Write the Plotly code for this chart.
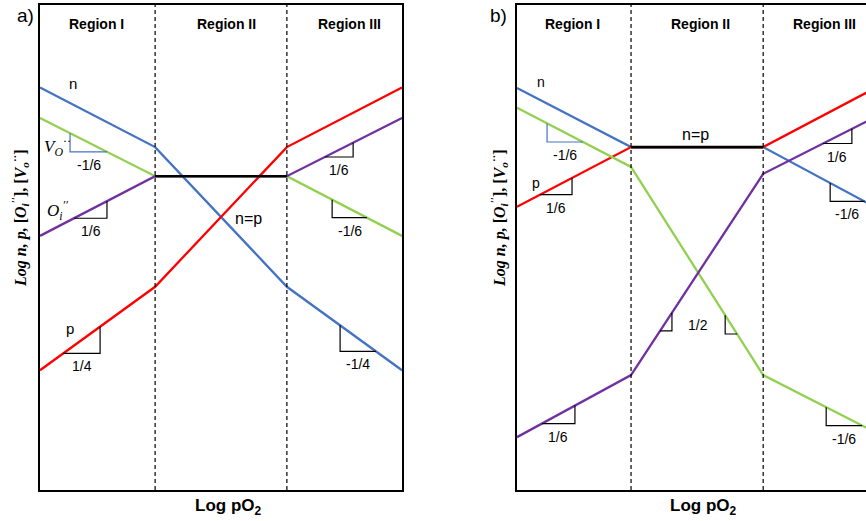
import numpy as np
import plotly.graph_objects as go

# ---------------- data (arbitrary log units) ----------------
# Panel a: region breakpoints on the Log pO2 axis
XA = [0.0, 3.18, 6.82, 10.0]
a_n = [8.30, 7.07, 4.19, 2.47]
a_p = [2.47, 4.19, 7.07, 8.30]
a_vo = [7.67, 6.47, 6.47, 5.24]
a_oi = [5.24, 6.47, 6.47, 7.67]

# Panel b
XB = [0.0, 3.15, 6.80, 10.0]
b_n = [8.29, 7.07, 7.07, 5.79]
b_p = [5.84, 7.07, 7.07, 8.33]
b_vo = [7.88, 6.66, 2.37, 1.15]
b_oi = [1.09, 2.37, 6.52, 7.73]

region_names = ["Region I", "Region II", "Region III"]

# slope triangles: (series, x_start, x_end, kind, colour key, label)
tri_a = [("vo", 0.83, 1.85, "down", "blue", "-1/6"),
         ("oi", 0.94, 1.85, "up", "black", "1/6"),
         ("p", 0.64, 1.66, "up", "black", "1/4"),
         ("oi", 7.87, 8.65, "up", "black", "1/6"),
         ("vo", 8.07, 9.03, "down", "black", "-1/6"),
         ("n", 8.29, 9.28, "down", "black", "-1/4")]
tri_b = [("vo", 0.83, 1.82, "down", "blue", "-1/6"),
         ("p", 0.64, 1.52, "up", "black", "1/6"),
         ("oi", 0.69, 1.60, "up", "black", "1/6"),
         ("oi", 3.95, 4.28, "up", "black", ""),
         ("vo", 5.75, 6.08, "down", "black", ""),
         ("oi", 8.45, 9.25, "up", "black", "1/6"),
         ("n", 8.65, 9.60, "down", "black", "-1/6"),
         ("vo", 8.54, 9.53, "down", "black", "-1/6")]

COL = {"n": "#4472C4", "p": "#FF0000", "vo": "#92D050", "oi": "#7030A0",
       "blue": "#4472C4", "black": "#000000"}

SANS = "Liberation Sans, Arial, sans-serif"
SERIF = "Liberation Serif, Times New Roman, serif"

fig = go.Figure()


def note(**kw):
    kw.setdefault("showarrow", False)
    kw.setdefault("xanchor", "center")
    kw.setdefault("yanchor", "middle")
    fig.add_annotation(**kw)


def add_panel(X, series, xa, ya, tris):
    for key in ["n", "p", "vo", "oi"]:
        fig.add_trace(go.Scatter(x=X, y=series[key], mode="lines",
                                 line=dict(color=COL[key], width=2.3),
                                 xaxis=xa, yaxis=ya, showlegend=False,
                                 hoverinfo="skip"))
    # region II flat segment (black)
    if series["n"][1] == series["n"][2]:
        flat = series["n"][1]
    else:
        flat = series["vo"][1]
    fig.add_trace(go.Scatter(x=[X[1], X[2]], y=[flat, flat], mode="lines",
                             line=dict(color="black", width=2.6),
                             xaxis=xa, yaxis=ya, showlegend=False,
                             hoverinfo="skip"))
    for key, x1, x2, kind, ck, lab in tris:
        y1 = float(np.interp(x1, X, series[key]))
        y2 = float(np.interp(x2, X, series[key]))
        if kind == "down":
            tx, ty = [x1, x1, x2], [y1, y2, y2]
            hy = y2
        else:
            tx, ty = [x1, x2, x2], [y1, y1, y2]
            hy = y1
        fig.add_trace(go.Scatter(x=tx, y=ty, mode="lines",
                                 line=dict(color=COL[ck], width=1.2),
                                 xaxis=xa, yaxis=ya, showlegend=False,
                                 hoverinfo="skip"))
        if lab:
            note(x=(x1 + x2) / 2, y=hy, xref=xa, yref=ya, text=lab, yshift=-13,
                 font=dict(family=SANS, size=14, color="black"))
    for xb in X[1:3]:
        fig.add_shape(type="line", x0=xb, x1=xb, y0=0, y1=10,
                      xref=xa, yref=ya,
                      line=dict(color="black", width=1.2, dash="4px,3px"))


add_panel(XA, {"n": a_n, "p": a_p, "vo": a_vo, "oi": a_oi}, "x", "y", tri_a)
add_panel(XB, {"n": b_n, "p": b_p, "vo": b_vo, "oi": b_oi}, "x2", "y2", tri_b)

W, H = 866, 521
ydom = [(H - 490) / H, (H - 5) / H]
axcommon = dict(showgrid=False, zeroline=False, showticklabels=False,
                ticks="", showline=True, linecolor="black", linewidth=1.5,
                fixedrange=True)
fig.update_layout(
    width=W, height=H, margin=dict(l=0, r=0, t=0, b=0),
    paper_bgcolor="white", plot_bgcolor="white",
    xaxis=dict(domain=[40 / W, 402 / W], range=[0, 10], mirror=True, **axcommon),
    yaxis=dict(domain=ydom, range=[0, 10], mirror=True, anchor="x", **axcommon),
    xaxis2=dict(domain=[517 / W, 1.0], range=[0, 9.64], mirror=True,
                anchor="y2", **axcommon),
    yaxis2=dict(domain=ydom, range=[0, 10], mirror=False, anchor="x2", **axcommon),
)

# region titles
reg_a = [1.55, 5.14, 8.56]
reg_b = [1.52, 5.06, 8.48]
for xs, xa, ya in [(reg_a, "x", "y"), (reg_b, "x2", "y2")]:
    for name, xv in zip(region_names, xs):
        note(x=xv, y=9.61, xref=xa, yref=ya, text="<b>%s</b>" % name,
             font=dict(family=SANS, size=14, color="black"))

# curve labels
lab_font = dict(family=SANS, size=15, color="black")
note(x=0.91, y=8.39, xref="x", yref="y", text="n", font=lab_font)
note(x=0.83, y=3.34, xref="x", yref="y", text="p", font=lab_font)
note(x=5.77, y=5.59, xref="x", yref="y", text="n=p",
     font=dict(family=SANS, size=16, color="black"))
note(x=0.47, y=7.09, xref="x", yref="y",
     text="<i>V</i><sub><i>O</i></sub><sup>··</sup>",
     font=dict(family=SERIF, size=17, color="black"))
note(x=0.47, y=5.77, xref="x", yref="y",
     text="<i>O</i><sub><i>i</i></sub><sup><i>′′</i></sup>",
     font=dict(family=SERIF, size=17, color="black"))
note(x=0.66, y=8.41, xref="x2", yref="y2", text="n",
     font=dict(family=SANS, size=14, color="black"))
note(x=0.52, y=6.33, xref="x2", yref="y2", text="p",
     font=dict(family=SANS, size=14, color="black"))
note(x=4.92, y=7.32, xref="x2", yref="y2", text="n=p",
     font=dict(family=SANS, size=16, color="black"))
note(x=5.0, y=3.40, xref="x2", yref="y2", text="1/2",
     font=dict(family=SANS, size=14, color="black"))

# panel letters
note(x=25 / W, y=(H - 16) / H, xref="paper", yref="paper", text="a)",
     font=dict(family=SANS, size=19, color="black"))
note(x=498 / W, y=(H - 16) / H, xref="paper", yref="paper", text="b)",
     font=dict(family=SANS, size=19, color="black"))

# axis titles
for xc in [228, 703]:
    note(x=xc / W, y=(H - 507) / H, xref="paper", yref="paper",
         text="<b>Log pO<sub>2</sub></b>",
         font=dict(family=SANS, size=17, color="black"))
ytitle = ("<b><i>Log n, p, </i>[<i>O</i><sub><i>i</i></sub><sup><i>′′</i></sup>], "
          "[<i>V</i><sub><i>o</i></sub><sup>··</sup>]</b>")
for xc in [20, 499]:
    note(x=xc / W, y=(H - 218) / H, xref="paper", yref="paper",
         text=ytitle, textangle=-90,
         font=dict(family=SERIF, size=16, color="black"))

fig.write_html("out.html")
